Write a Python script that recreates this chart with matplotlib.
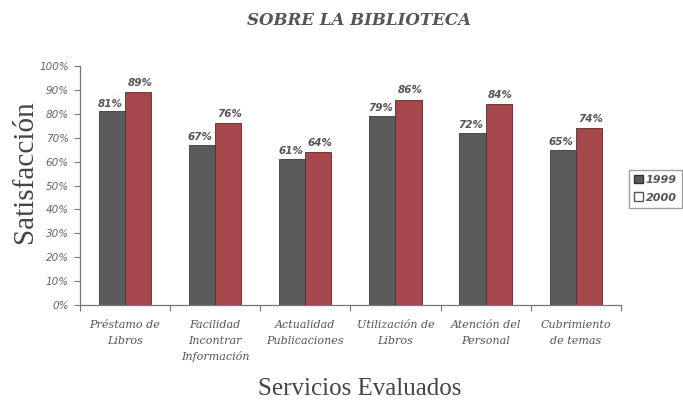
import numpy as np
import matplotlib.pyplot as plt
from matplotlib.patches import Patch

servicios = ['Préstamo de\nLibros', 'Facilidad\nIncontrar\nInformación', 'Actualidad\nPublicaciones',
             'Utilización de\nLibros', 'Atención del\nPersonal', 'Cubrimiento\nde temas']
v1999 = [81, 67, 61, 79, 72, 65]
v2000 = [89, 76, 64, 86, 84, 74]

fig = plt.figure(figsize=(6.83, 4.03), dpi=100)
ax = fig.add_axes([0.117, 0.243, 0.792, 0.593])

x = np.arange(len(servicios))
w = 0.29
b1 = ax.bar(x - w/2, v1999, w, color='#5b5a5c', edgecolor='#3a3a3a', linewidth=0.6)
b2 = ax.bar(x + w/2, v2000, w, color='#a5474b', edgecolor='#5a2a2a', linewidth=0.6)

lab = dict(fontsize=7.5, fontweight='bold', fontstyle='italic', color='#555555',
           family='DejaVu Sans')
for i in range(len(x)):
    ax.text(x[i] - w/2 - 0.02, v1999[i] + 1.2, '%d%%' % v1999[i], ha='center', va='bottom', **lab)
    ax.text(x[i] + w/2 + 0.02, v2000[i] + 1.8, '%d%%' % v2000[i], ha='center', va='bottom', **lab)

ax.set_xlim(-0.5, len(x) - 0.5)
ax.set_ylim(0, 100)
ax.set_yticks(range(0, 101, 10))
ax.set_yticklabels(['%d%%' % v for v in range(0, 101, 10)], fontsize=7.5,
                   fontstyle='italic', color='#666666', family='DejaVu Sans')
ax.set_xticks(np.arange(-0.5, len(x), 1))
ax.set_xticklabels([])
ax.set_xticks(x, minor=True)
ax.set_xticklabels(servicios, minor=True, fontsize=8, fontstyle='italic',
                   color='#555555', family='DejaVu Serif', linespacing=1.65)
ax.tick_params(axis='x', which='minor', length=0, pad=11)
ax.tick_params(axis='x', which='major', length=4, color='#777777', direction='out')
ax.tick_params(axis='y', length=4, color='#777777', pad=4)
for s in ['top', 'right']:
    ax.spines[s].set_visible(False)
for s in ['left', 'bottom']:
    ax.spines[s].set_color('#777777')
    ax.spines[s].set_linewidth(0.9)

ax.set_ylabel('Satisfacción', fontsize=21, family='Liberation Serif', color='#444444')
ax.yaxis.set_label_coords(-0.078, 0.56)
ax.set_xlabel('Servicios Evaluados', fontsize=18, family='Liberation Serif', color='#444444')
ax.xaxis.set_label_coords(0.517, -0.305)
fig.text(0.526, 0.948, 'SOBRE LA BIBLIOTECA', ha='center', va='center', fontsize=12,
         fontweight='bold', fontstyle='italic', family='DejaVu Serif', color='#555555')

handles = [Patch(facecolor='#5b5a5c', edgecolor='#333333', label='1999'),
           Patch(facecolor='white', edgecolor='#555555', label='2000')]
leg = fig.legend(handles=handles, loc='center left', bbox_to_anchor=(0.921, 0.532),
                 prop={'size': 8, 'style': 'italic', 'weight': 'bold', 'family': 'DejaVu Sans'},
                 handlelength=0.8, handleheight=0.8, handletextpad=0.25, borderpad=0.45,
                 labelspacing=0.7, fancybox=False, frameon=True, borderaxespad=0)
leg.get_frame().set_edgecolor('#888888')
for t in leg.get_texts():
    t.set_color('#555555')

fig.savefig('out.png', dpi=100)
